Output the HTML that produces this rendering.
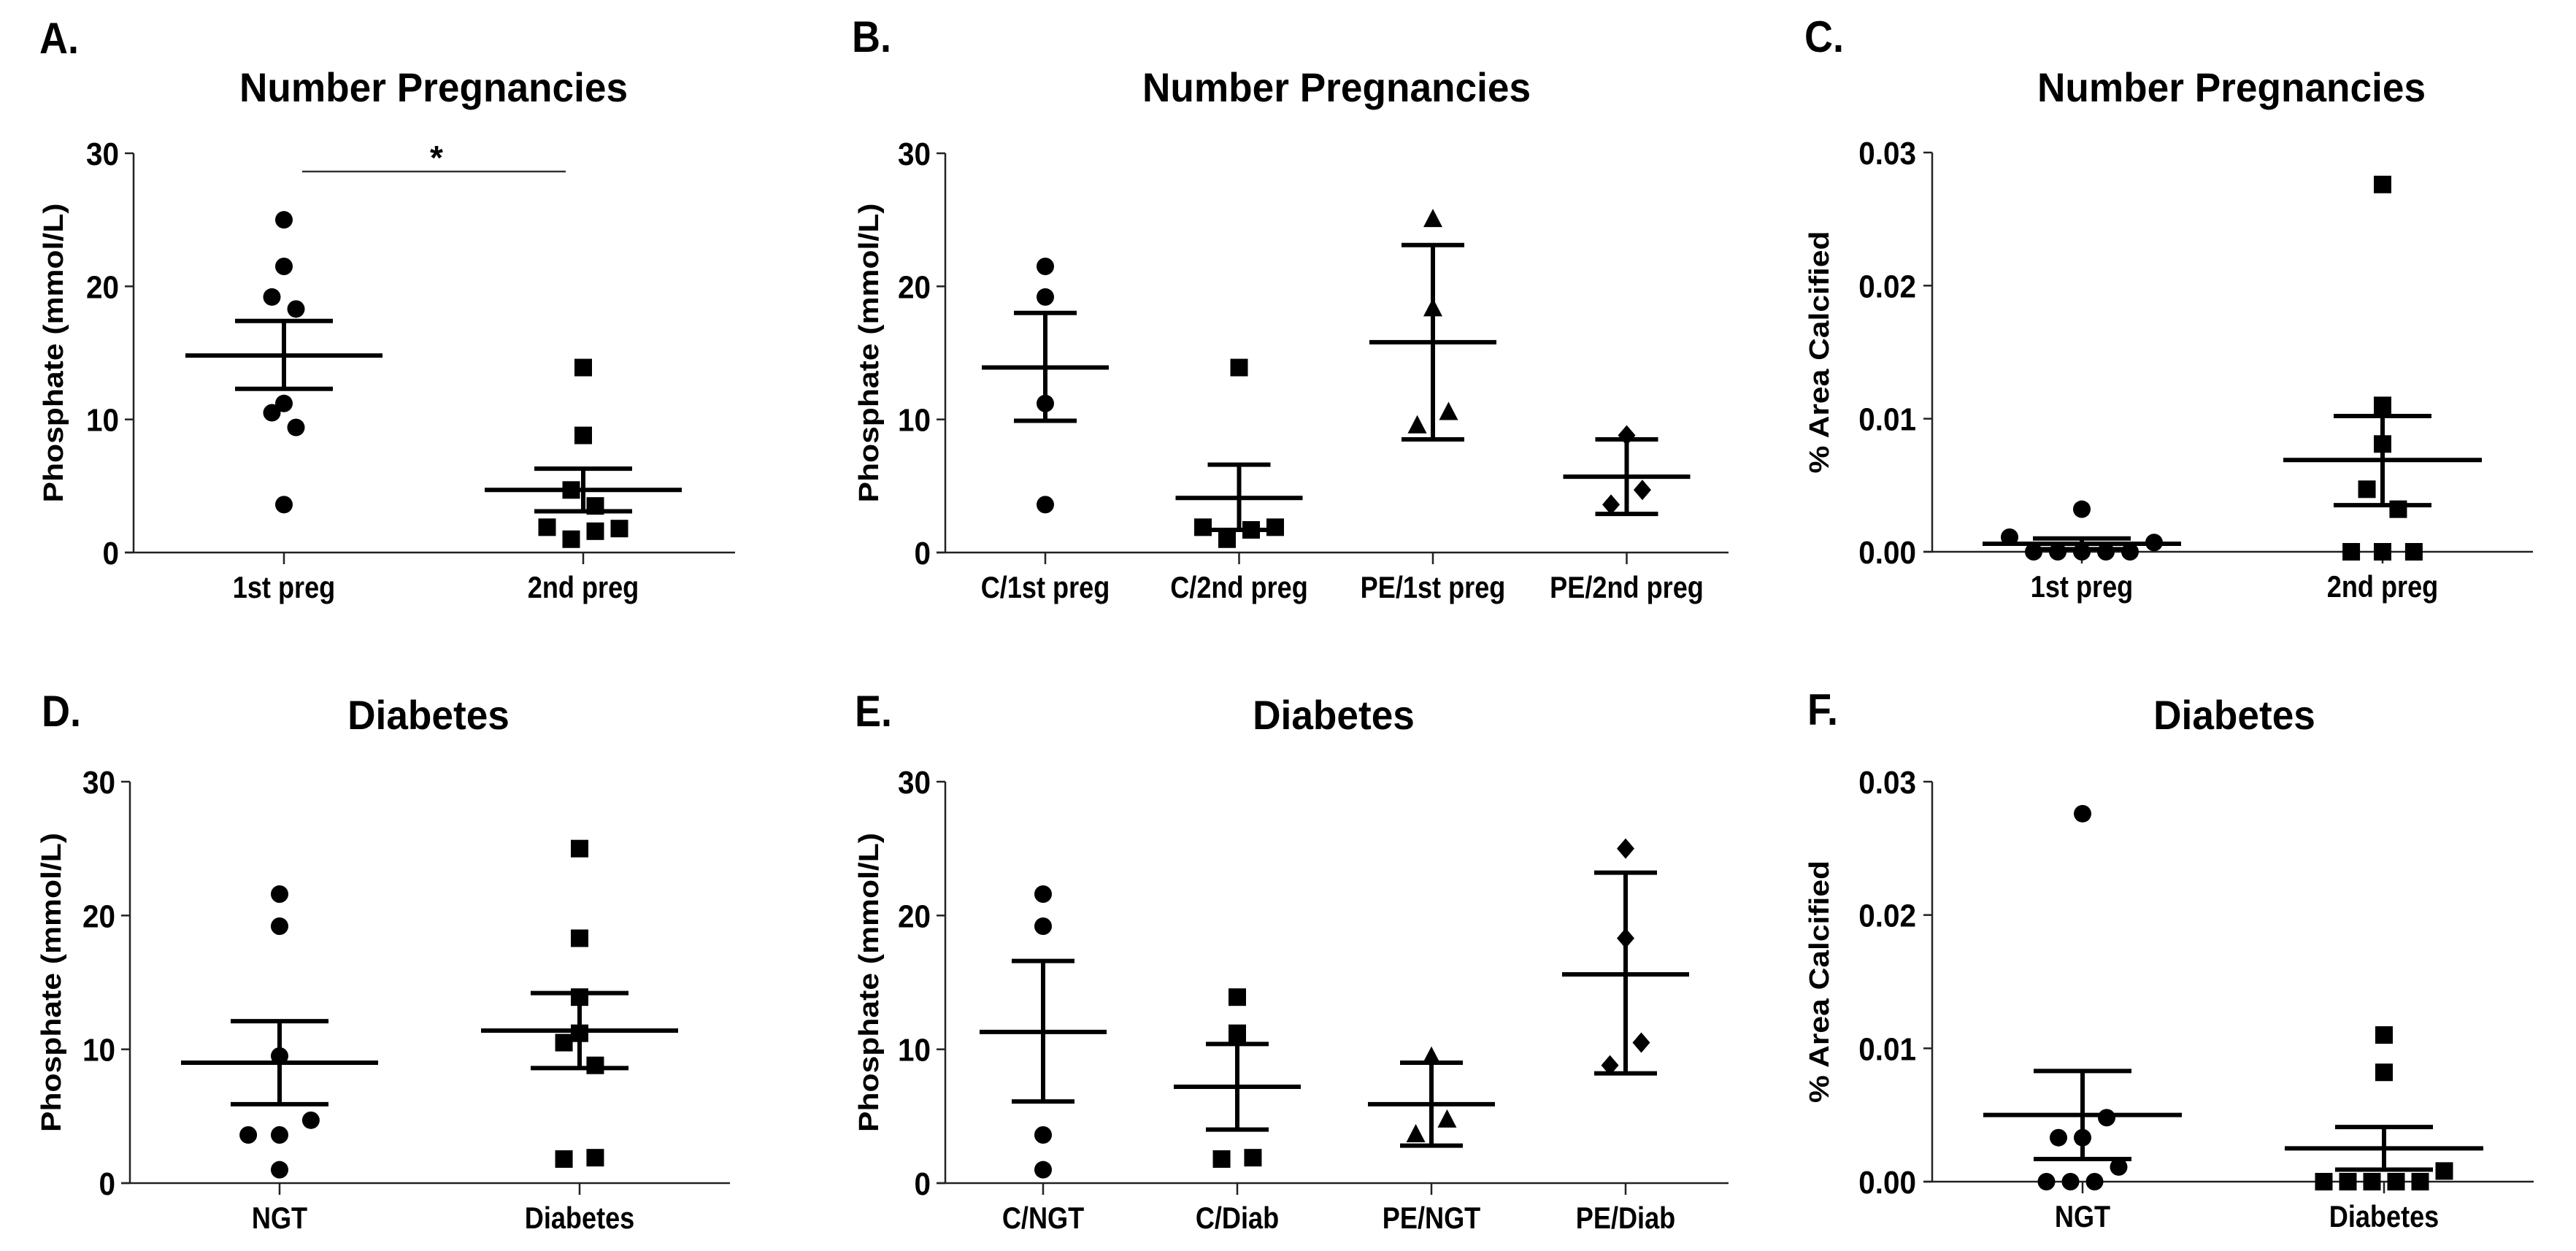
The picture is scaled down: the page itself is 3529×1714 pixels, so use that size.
<!DOCTYPE html>
<html><head><meta charset="utf-8"><style>
html,body{margin:0;padding:0;background:#fff;}
svg{display:block;}
text{font-family:"Liberation Sans",Arial,sans-serif;fill:#000;}
</style></head><body>
<svg id="fig" width="3529" height="1714" viewBox="0 0 3529 1714" xmlns="http://www.w3.org/2000/svg"></svg>
<script>
// ---------- DATA ----------
const catsA = ["1st preg","2nd preg"];
const valsA = [[25,21.5,19.2,18.3,11.2,10.5,9.4,3.6],[13.9,8.8,4.7,3.5,1.9,1.0,1.6,1.8]];
const jitA = [[0,0,-1,1,0,-1,1,0],[0,0,-1,1,-3,-1,1,3]];
const meanA = [14.8,4.7];
const semHiA = [17.4,6.3];
const semLoA = [12.3,3.1];

const catsB = ["C/1st preg","C/2nd preg","PE/1st preg","PE/2nd preg"];
const valsB = [[21.5,19.2,11.2,3.6],[13.9,1.9,1.0,1.7,1.9],[25,18.3,10.5,9.5],[8.8,4.7,3.6]];
const jitB = [[0,0,0,0],[0,-3,-1,1,3],[0,0,1.3,-1.3],[0,1.3,-1.3]];
const meanB = [13.9,4.1,15.8,5.7];
const semHiB = [18.0,6.6,23.1,8.5];
const semLoB = [9.9,1.7,8.5,2.9];

const catsC = ["1st preg","2nd preg"];
const valsC = [[0.0032,0.0011,0.0007,0,0,0,0,0],[0.0276,0.0110,0.0081,0.0047,0.0032,0,0,0]];
const jitC = [[0,-6,6,-4,-2,0,2,4],[0,0,0,-1.3,1.3,-2.6,0,2.6]];
const meanC = [0.0006,0.0069];
const semHiC = [0.0010,0.0102];
const semLoC = [0.0002,0.0035];

const catsD = ["NGT","Diabetes"];
const valsD = [[21.6,19.2,9.5,4.7,3.6,3.6,1.0],[25,18.3,13.9,11.2,10.5,8.8,1.8,1.9]];
const jitD = [[0,0,0,2.6,-2.6,0,0],[0,0,0,0,-1.3,1.3,-1.3,1.3]];
const meanD = [9.0,11.4];
const semHiD = [12.1,14.2];
const semLoD = [5.9,8.6];

const catsE = ["C/NGT","C/Diab","PE/NGT","PE/Diab"];
const valsE = [[21.6,19.2,3.6,1.0],[13.9,11.2,1.8,1.9],[9.4,4.7,3.6],[25,18.3,10.5,8.8]];
const jitE = [[0,0,0,0],[0,0,-1.3,1.3],[0,1.3,-1.3],[0,0,1.3,-1.3]];
const meanE = [11.3,7.2,5.9,15.6];
const semHiE = [16.6,10.4,9.0,23.2];
const semLoE = [6.1,4.0,2.8,8.2];

const catsF = ["NGT","Diabetes"];
const valsF = [[0.0276,0.0048,0.0033,0.0033,0.0011,0,0,0],[0.0110,0.0082,0.0008,0,0,0,0,0]];
const jitF = [[0,2,-2,0,3,-3,-1,1],[0,0,5,-5,-3,-1,1,3]];
const meanF = [0.0050,0.0025];
const semHiF = [0.0083,0.0041];
const semLoF = [0.0017,0.0009];

const ticksPhos = [0,10,20,30];
const ticksPhosLbl = ["0","10","20","30"];
const ticksArea = [0,0.01,0.02,0.03];
const ticksAreaLbl = ["0.00","0.01","0.02","0.03"];

// ---------- DRAW ----------
const NS = "http://www.w3.org/2000/svg";
const svg = document.getElementById("fig");
function mk(tag, attrs, parent){
  const e = document.createElementNS(NS, tag);
  for (const k in attrs) e.setAttribute(k, attrs[k]);
  (parent||svg).appendChild(e);
  return e;
}
function txt(parent, x, y, s, size, anchor, sx, weight){
  const g = mk("g", {transform:`translate(${x},${y}) scale(${sx},1)`}, parent);
  const t = mk("text", {x:0, y:0, "font-size":size, "font-weight":weight||"bold", "text-anchor":anchor}, g);
  t.textContent = s;
  return t;
}
function marker(parent, shape, cx, cy){
  let e;
  if (shape==="circle") e = mk("circle",{cx:cx,cy:cy,r:12,fill:"#000"},parent);
  else if (shape==="square") e = mk("rect",{x:cx-12,y:cy-12,width:24,height:24,fill:"#000"},parent);
  else if (shape==="triangle") e = mk("polygon",{points:`${cx},${cy-15} ${cx+13},${cy+10} ${cx-13},${cy+10}`,fill:"#000"},parent);
  else e = mk("polygon",{points:`${cx},${cy-14} ${cx+12},${cy} ${cx},${cy+14} ${cx-12},${cy}`,fill:"#000"},parent);
  return e;
}

function panel(cfg){
  const g = mk("g", {});
  
  
  const {ox, y0, yTop, xEnd, ymax} = cfg;
  const ys = v => y0 - (v/ymax)*(y0-yTop);
  const xs = i => ox + cfg.first + i*cfg.step;

  const L = txt(g, cfg.lx, cfg.ly, cfg.letter, 60, "start", 0.9);
  
  
  const T = txt(g, cfg.tx, cfg.ty, cfg.title, 56, "middle", 0.95);
  
  

  const ya = mk("line",{x1:ox,y1:yTop,x2:ox,y2:y0,stroke:"#222","stroke-width":2.5},g);
  
  
  const xa = mk("line",{x1:ox-12,y1:y0,x2:xEnd,y2:y0,stroke:"#222","stroke-width":2.5},g);
  
  

  cfg.ticks.forEach((t,k)=>{
    const y = ys(t);
    const tl = mk("line",{x1:ox-12,y1:y,x2:ox,y2:y,stroke:"#222","stroke-width":2.5},g);
    
    
    const lb = txt(g, ox-cfg.tickGap, y+16, cfg.tickLbl[k], 44, "end", 0.92);
    
    
  });

  const yt = mk("text",{x:0,y:0,"font-size":38,"font-weight":"bold","text-anchor":"middle",
    transform:`translate(${ox-cfg.ylGap},${(y0+yTop)/2}) rotate(-90)`,
    textLength:cfg.ylLen, lengthAdjust:"spacingAndGlyphs"},g);
  yt.textContent = cfg.ylabel;
  
  

  cfg.cats.forEach((c,i)=>{
    const x = xs(i);
    const xt = mk("line",{x1:x,y1:y0,x2:x,y2:y0+16,stroke:"#222","stroke-width":2.5},g);
    
    
    const cl = txt(g, x, y0+62, c, 42, "middle", 0.86);
    
    

    cfg.vals[i].forEach((v,j)=>{
      const m = marker(g, cfg.shapes[i], x + cfg.jit[i][j]*16.5, ys(v));
      
      
    });
    const sw = 6;
    const ml = mk("line",{x1:x-cfg.mw,y1:ys(cfg.mean[i]),x2:x+cfg.mw,y2:ys(cfg.mean[i]),stroke:"#000","stroke-width":sw},g);
    
    
    const vl = mk("line",{x1:x,y1:ys(cfg.hi[i]),x2:x,y2:ys(cfg.lo[i]),stroke:"#000","stroke-width":sw},g);
    
    
    [cfg.hi[i], cfg.lo[i]].forEach(v=>{
      const cp = mk("line",{x1:x-cfg.cw,y1:ys(v),x2:x+cfg.cw,y2:ys(v),stroke:"#000","stroke-width":sw},g);
      
      
    });
  });
  return {g, xs, ys};
}

const phosLbl = "Phosphate (mmol/L)";
const areaLbl = "% Area Calcified";

panel({name:"panel-a",letter:"A.",lx:54,ly:73,title:"Number Pregnancies",tx:594,ty:139,
  ox:183,y0:757,yTop:210,xEnd:1007,ymax:30,first:206,step:410,mw:135,cw:67,
  ticks:ticksPhos,tickLbl:ticksPhosLbl,tickGap:20,ylabel:phosLbl,ylGap:97,ylLen:410,
  cats:catsA,vals:valsA,jit:jitA,mean:meanA,hi:semHiA,lo:semLoA,shapes:["circle","square"]});
const sig = mk("line",{x1:414,y1:235,x2:775,y2:235,stroke:"#333","stroke-width":2.5});


const star = mk("text",{x:598,y:232,"font-size":46,"font-weight":"bold","text-anchor":"middle"});
star.textContent = "*";



panel({name:"panel-b",letter:"B.",lx:1167,ly:71,title:"Number Pregnancies",tx:1831,ty:139,
  ox:1295,y0:757,yTop:210,xEnd:2368,ymax:30,first:137,step:265.5,mw:87,cw:43,
  ticks:ticksPhos,tickLbl:ticksPhosLbl,tickGap:20,ylabel:phosLbl,ylGap:92,ylLen:410,
  cats:catsB,vals:valsB,jit:jitB,mean:meanB,hi:semHiB,lo:semLoB,shapes:["circle","square","triangle","diamond"]});

panel({name:"panel-c",letter:"C.",lx:2472,ly:71,title:"Number Pregnancies",tx:3057,ty:139,
  ox:2647,y0:756,yTop:209,xEnd:3470,ymax:0.03,first:205,step:412,mw:136,cw:67,
  ticks:ticksArea,tickLbl:ticksAreaLbl,tickGap:22,ylabel:areaLbl,ylGap:142,ylLen:332,
  cats:catsC,vals:valsC,jit:jitC,mean:meanC,hi:semHiC,lo:semLoC,shapes:["circle","square"]});

panel({name:"panel-d",letter:"D.",lx:57,ly:995,title:"Diabetes",tx:587,ty:999,
  ox:178,y0:1621,yTop:1071,xEnd:1000,ymax:30,first:205,step:411,mw:135,cw:67,
  ticks:ticksPhos,tickLbl:ticksPhosLbl,tickGap:20,ylabel:phosLbl,ylGap:95,ylLen:410,
  cats:catsD,vals:valsD,jit:jitD,mean:meanD,hi:semHiD,lo:semLoD,shapes:["circle","square"]});

panel({name:"panel-e",letter:"E.",lx:1171,ly:995,title:"Diabetes",tx:1827,ty:999,
  ox:1295,y0:1621,yTop:1071,xEnd:2368,ymax:30,first:134,step:266,mw:87,cw:43,
  ticks:ticksPhos,tickLbl:ticksPhosLbl,tickGap:20,ylabel:phosLbl,ylGap:92,ylLen:410,
  cats:catsE,vals:valsE,jit:jitE,mean:meanE,hi:semHiE,lo:semLoE,shapes:["circle","square","triangle","diamond"]});

panel({name:"panel-f",letter:"F.",lx:2476,ly:993,title:"Diabetes",tx:3061,ty:999,
  ox:2647,y0:1619,yTop:1071,xEnd:3471,ymax:0.03,first:206,step:413,mw:136,cw:67,
  ticks:ticksArea,tickLbl:ticksAreaLbl,tickGap:22,ylabel:areaLbl,ylGap:142,ylLen:332,
  cats:catsF,vals:valsF,jit:jitF,mean:meanF,hi:semHiF,lo:semLoF,shapes:["circle","square"]});
</script>
</body></html>
